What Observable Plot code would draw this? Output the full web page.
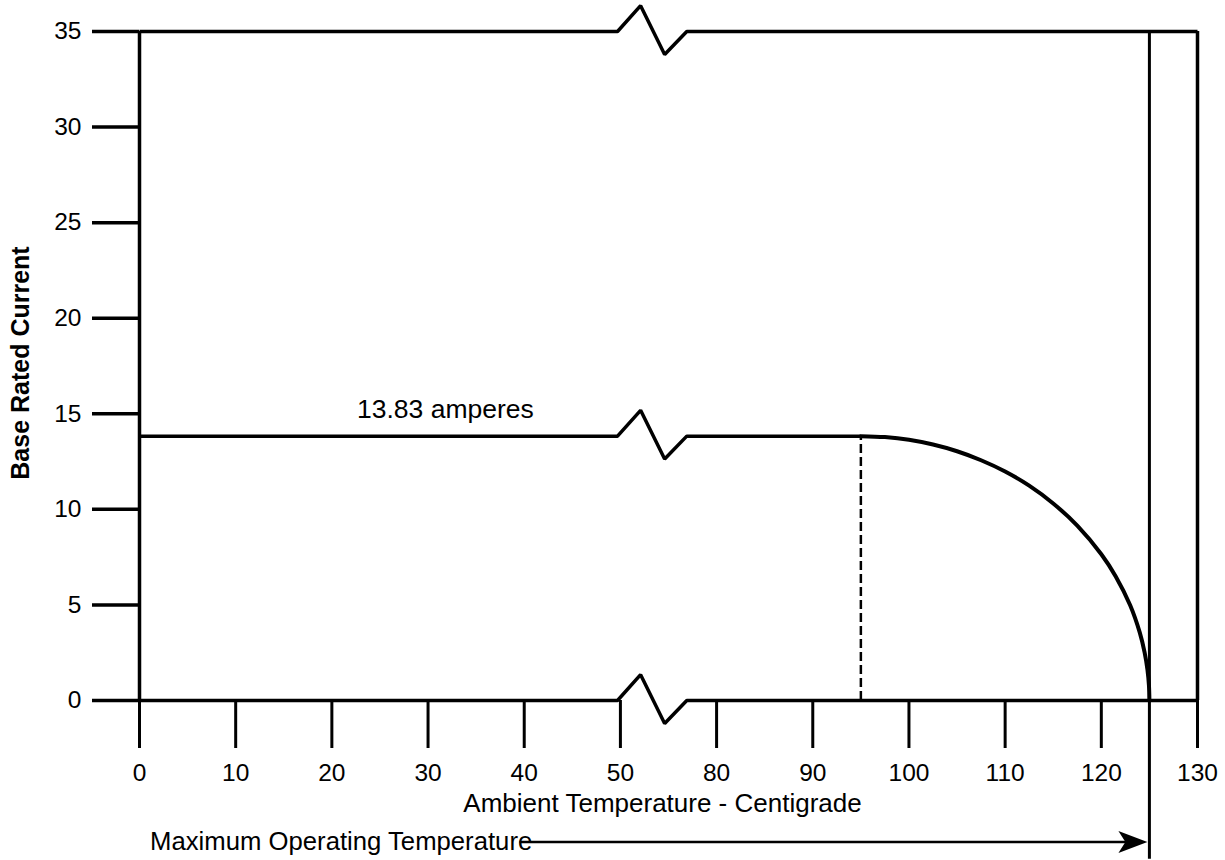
<!DOCTYPE html>
<html>
<head>
<meta charset="utf-8">
<script src="https://cdn.jsdelivr.net/npm/d3@7"></script>
<script src="https://cdn.jsdelivr.net/npm/@observablehq/plot@0.6"></script>
<style>
  body { margin: 0; background: #fff; }
  svg { display: block; }
</style>
</head>
<body>
<div id="chart"></div>
<script>
// ---- data ----
const breakFrom = 50;            // last tick before the axis break (°C)
const breakTo = 80;              // first tick after the axis break (°C)
const xTickValues = [0, 10, 20, 30, 40, 50, 80, 90, 100, 110, 120, 130];
const yTickValues = [0, 5, 10, 15, 20, 25, 30, 35];
const ratedCurrent = 13.83;      // amperes
const kneeTemp = 95;             // °C where derating starts
const maxTemp = 125;             // maximum operating temperature
const xMax = 130;
const yMax = 35;
const curveTemp    = [95, 97.5, 100, 102.5, 105, 107.5, 110, 112.5, 115, 117.5, 120, 121.5, 123, 124, 124.5, 124.8, 124.95, 125];
const curveCurrent = [13.83, 13.78, 13.64, 13.39, 13.04, 12.57, 11.98, 11.24, 10.31, 9.15, 7.65, 6.49, 4.98, 3.55, 2.52, 1.6, 0.8, 0];
// zig-zag break symbol: positions on the compressed axis, offsets in amperes
const zigPos = [49.7, 52.1, 54.6, 56.9];
const zigOffset = [0, 1.35, -1.2, 0];
const ratedLabelPos = 31.8;      // °C (centre of "13.83 amperes")
const arrowLevel = -7.4;         // amperes (below the axis) for the annotation arrow
const ruleBottom = -8.3;         // amperes, end of the max-temperature rule
const arrowStart = 40.6;         // °C where the arrow line starts (after the text)
const annotationStart = 1.1;     // °C where the annotation text starts

// ---- compressed x axis: 50..80 occupies one tick interval ----
const gap = breakTo - breakFrom - 10;
const disp = t => t <= breakFrom ? t : t - gap;
const undisp = d => d <= breakFrom ? d : d + gap;

// horizontal lines broken by the zig-zag
function brokenLine(level, endTemp) {
  const pts = [{level, x: 0, y: level}];
  zigPos.forEach((p, i) => pts.push({level, x: p, y: level + zigOffset[i]}));
  pts.push({level, x: disp(endTemp), y: level});
  return pts;
}
const lines = [
  ...brokenLine(yMax, xMax),
  ...brokenLine(ratedCurrent, kneeTemp),
  ...brokenLine(0, xMax)
];
const curve = curveTemp.map((t, i) => ({x: disp(t), y: curveCurrent[i]}));

const arrowHead = {
  draw(ctx) {
    ctx.moveTo(0, 0);
    ctx.lineTo(-29, -11);
    ctx.lineTo(-22, 0);
    ctx.lineTo(-29, 11);
    ctx.closePath();
  }
};

const font = "'Liberation Sans', Arial, Helvetica, sans-serif";

const chart = Plot.plot({
  width: 1225,
  height: 860,
  marginLeft: 139,
  marginRight: 28,
  marginTop: 31,
  marginBottom: 160,
  style: {fontFamily: font, fontSize: "24px", color: "#000", background: "#fff"},
  x: {domain: [0, disp(xMax)], axis: null},
  y: {domain: [0, yMax], axis: null},
  marks: [
    Plot.axisY({
      ticks: yTickValues, tickSize: 47, tickPadding: 11,
      strokeWidth: 3.5, fontSize: 24.5, label: null
    }),
    Plot.axisX({
      ticks: xTickValues.map(disp), tickFormat: d => undisp(d),
      tickSize: 48, tickPadding: 15, strokeWidth: 3, fontSize: 24.5, label: null
    }),
    Plot.line(lines, {x: "x", y: "y", z: "level", stroke: "#000", strokeWidth: 3.5, strokeLinejoin: "miter", strokeLinecap: "butt"}),
    Plot.ruleX([0], {y1: 0, y2: yMax, stroke: "#000", strokeWidth: 3.5}),
    Plot.ruleX([disp(xMax)], {y1: 0, y2: yMax, stroke: "#000", strokeWidth: 3.5}),
    Plot.ruleX([disp(maxTemp)], {y1: ruleBottom, y2: yMax, stroke: "#000", strokeWidth: 3}),
    Plot.ruleX([disp(kneeTemp)], {y1: 0, y2: ratedCurrent, stroke: "#000", strokeWidth: 2.5, strokeDasharray: "9,4"}),
    Plot.line(curve, {x: "x", y: "y", curve: "catmull-rom", stroke: "#000", strokeWidth: 4}),
    Plot.text(["13.83 amperes"], {x: disp(ratedLabelPos), y: ratedCurrent, dy: -27, fontSize: 26.5, fill: "#000"}),
    Plot.text(["Ambient Temperature - Centigrade"], {frameAnchor: "bottom", dx: -6, dy: 111, fontSize: 26, fill: "#000"}),
    Plot.text(["Base Rated Current"], {frameAnchor: "left", textAnchor: "middle", dx: -119, dy: -3, rotate: -90, fontSize: 25, fontWeight: "bold", fill: "#000"}),
    Plot.text(["Maximum Operating Temperature"], {x: disp(annotationStart), y: arrowLevel, textAnchor: "start", fontSize: 25.7, fill: "#000"}),
    Plot.ruleY([arrowLevel], {x1: disp(arrowStart), x2: disp(maxTemp), dx: -10, stroke: "#000", strokeWidth: 2.5}),
    Plot.dot([maxTemp], {x: d => disp(d), y: arrowLevel, dx: -2, symbol: arrowHead, fill: "#000", stroke: "none"})
  ]
});
document.getElementById("chart").append(chart);
</script>
</body>
</html>
